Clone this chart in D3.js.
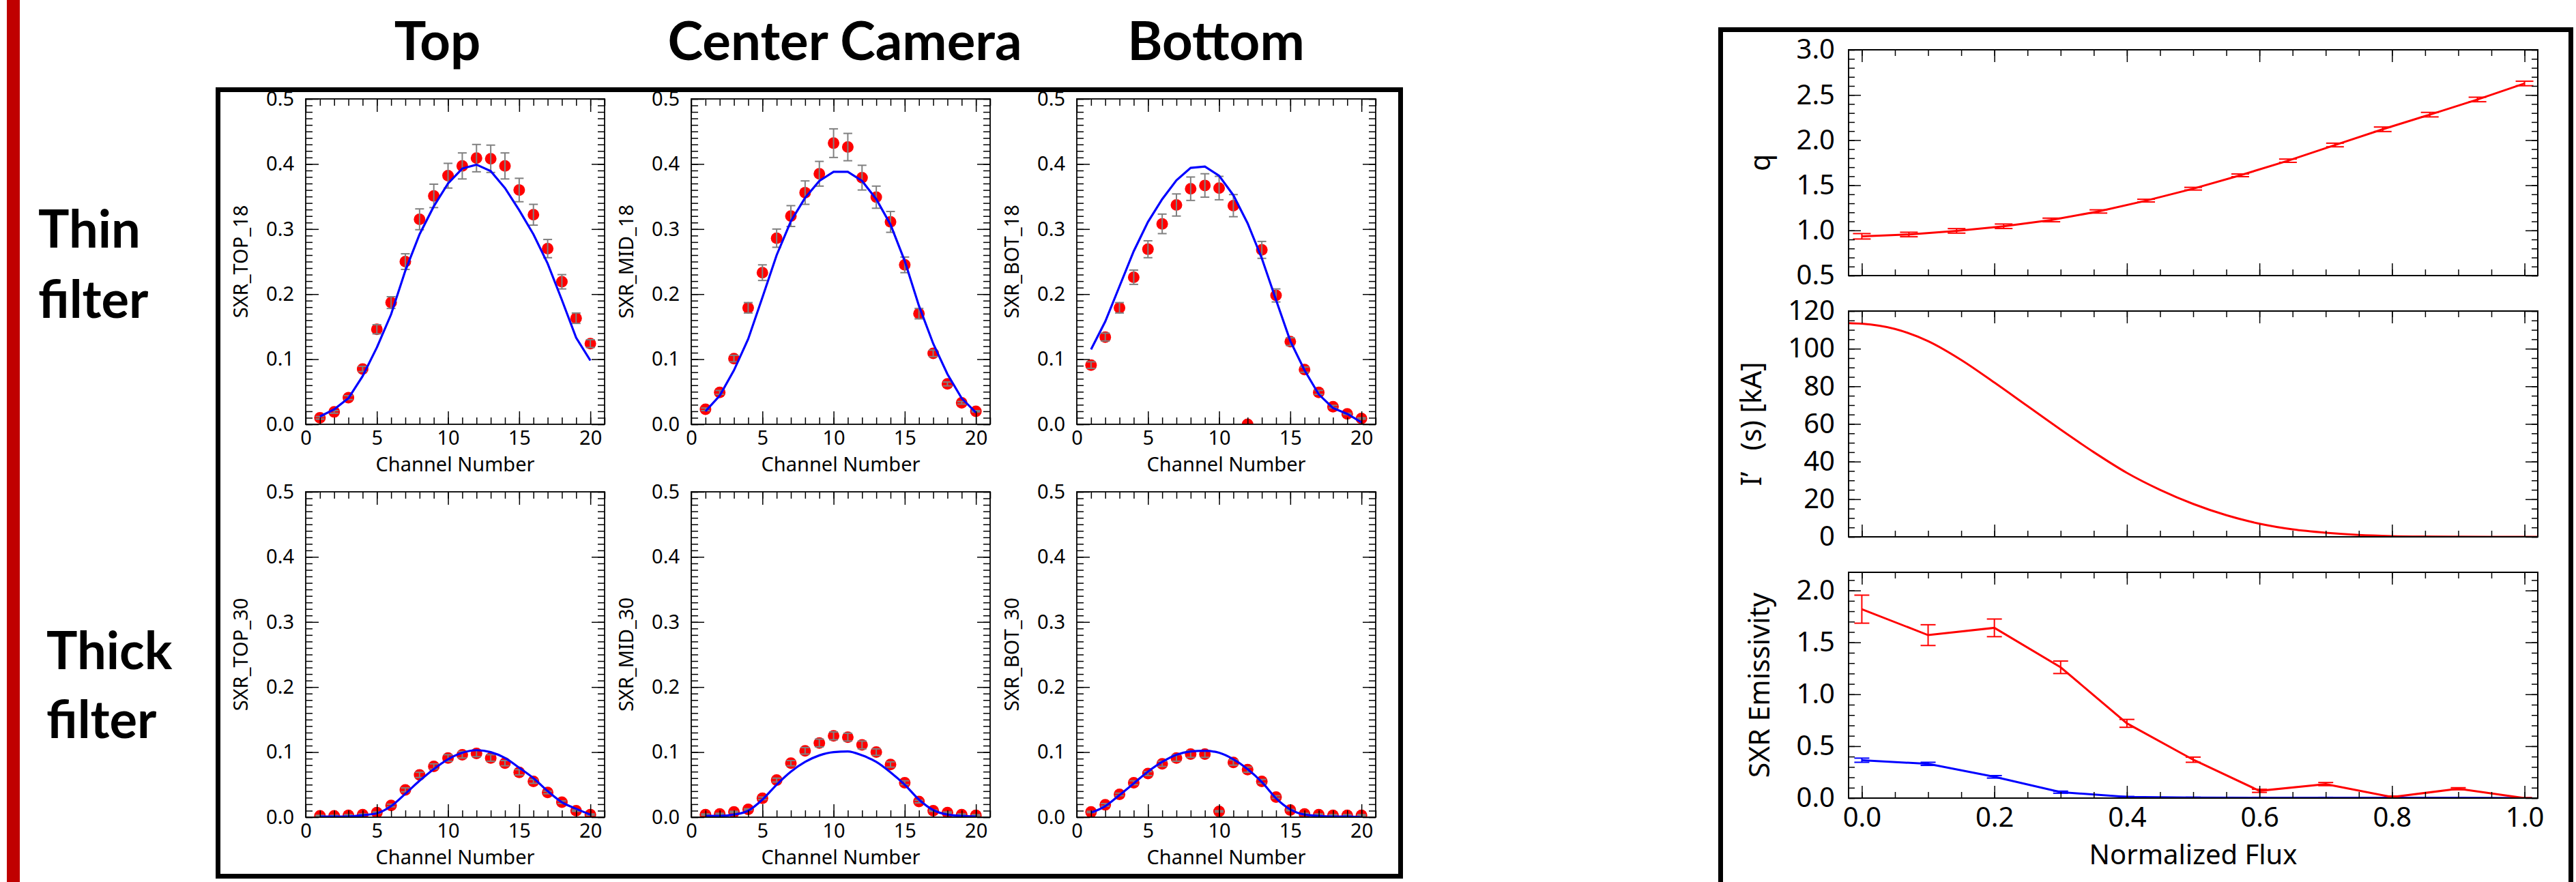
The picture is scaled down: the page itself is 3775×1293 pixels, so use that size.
<!DOCTYPE html>
<html>
<head>
<meta charset="utf-8">
<script src="https://cdn.jsdelivr.net/npm/d3@7"></script>
<style>
  body { margin: 0; background: #fff; }
</style>
</head>
<body>
<div id="chart"></div>
<script>
// ---- data ----
var channels = [1,2,3,4,5,6,7,8,9,10,11,12,13,14,15,16,17,18,19,20];
var chanTicks = [0,5,10,15,20];
var sxrTicks = [0.0,0.1,0.2,0.3,0.4,0.5];

// thin filter (_18)
var top18 = [0.010,0.019,0.041,0.085,0.146,0.187,0.250,0.315,0.351,0.382,0.397,0.409,0.408,0.397,0.360,0.322,0.270,0.219,0.163,0.124];
var top18Err = [0.002,0.002,0.003,0.004,0.007,0.009,0.012,0.016,0.018,0.019,0.020,0.021,0.021,0.020,0.018,0.016,0.014,0.011,0.008,0.006];
var top18Fit = [0.012,0.023,0.040,0.074,0.118,0.169,0.236,0.292,0.335,0.370,0.393,0.399,0.389,0.363,0.329,0.292,0.247,0.191,0.133,0.098];

var mid18 = [0.023,0.049,0.101,0.179,0.233,0.286,0.320,0.356,0.385,0.432,0.426,0.379,0.349,0.311,0.245,0.170,0.109,0.062,0.033,0.020];
var mid18Err = [0.002,0.003,0.005,0.008,0.012,0.014,0.016,0.018,0.019,0.022,0.021,0.019,0.017,0.016,0.012,0.008,0.005,0.003,0.002,0.001];
var mid18Fit = [0.020,0.044,0.083,0.131,0.195,0.260,0.312,0.348,0.374,0.388,0.388,0.374,0.346,0.307,0.251,0.182,0.124,0.077,0.040,0.018];

var bot18 = [0.091,0.134,0.179,0.226,0.269,0.308,0.337,0.362,0.367,0.363,0.336,0.000,0.268,0.198,0.127,0.084,0.049,0.027,0.016,0.009];
var bot18Err = [0.005,0.006,0.008,0.011,0.013,0.015,0.017,0.018,0.018,0.018,0.017,0.000,0.013,0.010,0.006,0.004,0.003,0.002,0.001,0.001];
var bot18Fit = [0.115,0.158,0.212,0.266,0.311,0.346,0.375,0.394,0.396,0.382,0.352,0.309,0.255,0.191,0.128,0.083,0.046,0.025,0.016,0.003];

// thick filter (_30)
var top30 = [0.002,0.002,0.003,0.004,0.007,0.018,0.042,0.065,0.078,0.091,0.096,0.098,0.091,0.083,0.069,0.055,0.038,0.023,0.010,0.004];
var top30Err = [0.001,0.001,0.001,0.001,0.001,0.002,0.003,0.004,0.004,0.005,0.005,0.005,0.005,0.004,0.004,0.003,0.002,0.002,0.001,0.001];
var top30Fit = [0.001,0.001,0.001,0.003,0.006,0.017,0.036,0.056,0.074,0.089,0.099,0.103,0.100,0.091,0.076,0.060,0.040,0.023,0.013,0.004];

var mid30 = [0.004,0.005,0.008,0.012,0.029,0.057,0.083,0.102,0.114,0.125,0.123,0.111,0.100,0.081,0.053,0.024,0.010,0.007,0.004,0.003];
var mid30Err = [0.001,0.001,0.001,0.001,0.002,0.003,0.004,0.005,0.006,0.006,0.006,0.006,0.005,0.004,0.003,0.002,0.001,0.001,0.001,0.001];
var mid30Fit = [0.002,0.002,0.004,0.010,0.027,0.050,0.070,0.085,0.095,0.100,0.101,0.095,0.085,0.069,0.050,0.027,0.011,0.004,0.002,0.001];

var bot30 = [0.008,0.019,0.035,0.053,0.067,0.082,0.091,0.097,0.097,0.009,0.084,0.073,0.055,0.031,0.011,0.005,0.004,0.003,0.003,0.003];
var bot30Err = [0.001,0.002,0.002,0.003,0.003,0.004,0.005,0.005,0.005,0.001,0.004,0.004,0.003,0.002,0.001,0.001,0.001,0.001,0.001,0.001];
var bot30Fit = [0.007,0.017,0.034,0.052,0.070,0.085,0.096,0.101,0.102,0.099,0.089,0.074,0.054,0.029,0.012,0.004,0.002,0.001,0.001,0.000];

// right side: profiles vs normalized flux
var fluxTicks = [0.0,0.2,0.4,0.6,0.8,1.0];
var fluxQ = [0,0.071,0.143,0.214,0.286,0.357,0.429,0.5,0.571,0.643,0.714,0.786,0.857,0.929,1.0];
var qProfile = [0.935,0.955,0.995,1.046,1.116,1.21,1.33,1.462,1.61,1.772,1.946,2.12,2.282,2.45,2.627];
var qErr = [0.03,0.025,0.025,0.025,0.02,0.018,0.015,0.015,0.015,0.018,0.02,0.025,0.025,0.025,0.025];
var qTicks = [0.5,1.0,1.5,2.0,2.5,3.0];

var fluxI = [-0.02,0,0.05,0.1,0.15,0.2,0.25,0.3,0.35,0.4,0.45,0.5,0.55,0.6,0.65,0.7,0.75,0.8,0.85,0.9,0.95,1.0,1.02];
var iPrime = [113.6,113.3,110.5,104,94,82,69.5,57,45,34,25,17.5,11.5,7,4,2.2,1,0.4,0.15,0.05,0,0,0];
var iTicks = [0,20,40,60,80,100,120];

var fluxE = [0,0.1,0.2,0.3,0.4,0.5,0.6,0.7,0.8,0.9,1.0];
var emisThin = [1.82,1.57,1.64,1.26,0.72,0.37,0.07,0.135,0.01,0.09,0.0];
var emisThinErr = [0.135,0.1,0.085,0.06,0.038,0.025,0.015,0.015,0.01,0.01,0.005];
var emisThick = [0.365,0.33,0.205,0.057,0.012,0.005,0.004,0.004,0.003,0.003,0.0];
var emisThickErr = [0.02,0.015,0.012,0.01,0.004,0.003,0.003,0.003,0.003,0.003,0.002];
var emisTicks = [0.0,0.5,1.0,1.5,2.0];

// ---- page ----
var font = "'Noto Sans', 'DejaVu Sans', sans-serif";
var titleFont = "Lato, 'Open Sans', sans-serif";

var svg = d3.select("#chart").append("svg")
    .attr("width", 3775)
    .attr("height", 1293)
    .style("display", "block");

svg.append("rect").attr("x", 10).attr("y", 0).attr("width", 19).attr("height", 1293).attr("fill", "#c00000");

// boxes round the two groups
svg.append("rect").attr("x", 319.5).attr("y", 131.5).attr("width", 1733).attr("height", 1153)
    .attr("fill", "none").attr("stroke", "#000").attr("stroke-width", 7);
svg.append("rect").attr("x", 2521.5).attr("y", 43.5).attr("width", 1246).attr("height", 1300)
    .attr("fill", "none").attr("stroke", "#000").attr("stroke-width", 7);

// titles
var titles = [["Top", 641], ["Center Camera", 1238], ["Bottom", 1782]];
titles.forEach(function (t) {
    svg.append("text").attr("x", t[1]).attr("y", 88).attr("text-anchor", "middle")
        .attr("font-family", titleFont).attr("font-weight", 700).attr("font-size", 78).text(t[0]);
});
var rowNames = [["Thin", 56, 363], ["filter", 56, 466], ["Thick", 68, 981], ["filter", 68, 1082]];
rowNames.forEach(function (t) {
    svg.append("text").attr("x", t[1]).attr("y", t[2])
        .attr("font-family", titleFont).attr("font-weight", 700).attr("font-size", 76).text(t[0]);
});

var clipCount = 0;

// one set of ticks on one side of the box
function tickSide(g, axisFn, scale, values, size, pad, fmt, fs, transform) {
    var a = axisFn(scale).tickValues(values).tickSize(-size).tickSizeOuter(0).tickPadding(pad)
        .tickFormat(fmt ? fmt : function () { return ""; });
    var ag = g.append("g").attr("transform", transform).call(a);
    ag.select(".domain").remove();
    ag.attr("font-family", font).attr("font-size", fs);
    ag.selectAll("line").attr("stroke", "#000").attr("stroke-width", 1.5);
    ag.selectAll("text").attr("fill", "#000");
    if (!fmt) ag.selectAll("text").remove();
    return ag;
}

// box with inward ticks on all four sides
function boxAxes(g, x, y, w, h, o) {
    var xMin = o.xMinor, yMin = o.yMinor;
    tickSide(g, d3.axisBottom, x, xMin, o.min, 0, null, o.fs, `translate(0,${h})`);
    tickSide(g, d3.axisBottom, x, o.xMajor, o.maj, o.xPad, o.showX ? o.xFmt : null, o.fs, `translate(0,${h})`);
    tickSide(g, d3.axisTop, x, xMin, o.min, 0, null, o.fs, null);
    tickSide(g, d3.axisTop, x, o.xMajor, o.maj, 0, null, o.fs, null);
    tickSide(g, d3.axisLeft, y, yMin, o.min, 0, null, o.fs, null);
    tickSide(g, d3.axisLeft, y, o.yMajor, o.maj, o.yPad, o.yFmt, o.fs, null);
    tickSide(g, d3.axisRight, y, yMin, o.min, 0, null, o.fs, `translate(${w},0)`);
    tickSide(g, d3.axisRight, y, o.yMajor, o.maj, 0, null, o.fs, `translate(${w},0)`);
    g.append("rect").attr("width", w).attr("height", h).attr("fill", "none")
        .attr("stroke", "#000").attr("stroke-width", o.spine);
}

function clipFor(g, w, h) {
    var id = "clip" + (clipCount++);
    g.append("clipPath").attr("id", id).append("rect").attr("width", w).attr("height", h);
    return g.append("g").attr("clip-path", `url(#${id})`);
}

function errorBars(g, x, y, xs, vals, errs, color, cap, width) {
    vals.forEach(function (v, i) {
        var e = errs[i];
        if (e <= 0) return;
        var cx = x(xs[i]);
        g.append("line").attr("x1", cx).attr("x2", cx).attr("y1", y(v - e)).attr("y2", y(v + e))
            .attr("stroke", color).attr("stroke-width", width);
        [v - e, v + e].forEach(function (c) {
            g.append("line").attr("x1", cx - cap).attr("x2", cx + cap).attr("y1", y(c)).attr("y2", y(c))
                .attr("stroke", color).attr("stroke-width", width);
        });
    });
}

// SXR camera panels
var panelW = 438, panelH = 477;
function channelPanel(left, top, label, data, err, fit, curve) {
    var g = svg.append("g").attr("transform", `translate(${left},${top})`);
    var x = d3.scaleLinear().domain([0, 21]).range([0, panelW]);
    var y = d3.scaleLinear().domain([0, 0.5]).range([panelH, 0]);

    var inner = clipFor(g, panelW, panelH);
    inner.selectAll("circle").data(data).enter().append("circle")
        .attr("cx", function (d, i) { return x(channels[i]); })
        .attr("cy", function (d) { return y(d); })
        .attr("r", 8.5)
        .attr("fill", "#ff0000");
    errorBars(inner, x, y, channels, data, err, "#808080", 6.5, 2);
    var line = d3.line()
        .x(function (d, i) { return x(channels[i]); })
        .y(function (d) { return y(d); })
        .curve(curve);
    inner.append("path").datum(fit).attr("d", line)
        .attr("fill", "none").attr("stroke", "#0000ff").attr("stroke-width", 3.2);

    boxAxes(g, x, y, panelW, panelH, {
        xMajor: chanTicks, xMinor: channels.concat([21]), yMajor: sxrTicks, yMinor: y.ticks(50),
        maj: 19, min: 10, xPad: 9, yPad: 17, fs: 29, spine: 1.8, showX: true,
        xFmt: d3.format("d"), yFmt: d3.format(".1f")
    });

    g.append("text").attr("x", panelW / 2).attr("y", panelH + 69).attr("text-anchor", "middle")
        .attr("font-family", font).attr("font-size", 29).text("Channel Number");
    g.append("text").attr("transform", `translate(-85,${panelH / 2}) rotate(-90)`)
        .attr("text-anchor", "middle").attr("font-family", font).attr("font-size", 29).text(label);
}

var colLeft = [448, 1013, 1578];
var rowTop = [145, 721];
channelPanel(colLeft[0], rowTop[0], "SXR_TOP_18", top18, top18Err, top18Fit, d3.curveLinear);
channelPanel(colLeft[1], rowTop[0], "SXR_MID_18", mid18, mid18Err, mid18Fit, d3.curveLinear);
channelPanel(colLeft[2], rowTop[0], "SXR_BOT_18", bot18, bot18Err, bot18Fit, d3.curveLinear);
channelPanel(colLeft[0], rowTop[1], "SXR_TOP_30", top30, top30Err, top30Fit, d3.curveMonotoneX);
channelPanel(colLeft[1], rowTop[1], "SXR_MID_30", mid30, mid30Err, mid30Fit, d3.curveMonotoneX);
channelPanel(colLeft[2], rowTop[1], "SXR_BOT_30", bot30, bot30Err, bot30Fit, d3.curveMonotoneX);

// profile panels on the right
var fluxLeft = 2709, fluxW = 1010, fluxH = 331;
var xFlux = d3.scaleLinear().domain([-0.02, 1.02]).range([0, fluxW]);

function fluxPanel(top, domain, yMajor, minorCount, yFmt, label, labelX, showX) {
    var g = svg.append("g").attr("transform", `translate(${fluxLeft},${top})`);
    var y = d3.scaleLinear().domain(domain).range([fluxH, 0]);
    var inner = clipFor(g, fluxW, fluxH);
    boxAxes(g, xFlux, y, fluxW, fluxH, {
        xMajor: fluxTicks, xMinor: xFlux.ticks(20), yMajor: yMajor, yMinor: y.ticks(minorCount),
        maj: 18, min: 9, xPad: 14, yPad: 20, fs: 40, spine: 2, showX: showX,
        xFmt: d3.format(".1f"), yFmt: yFmt
    });
    g.append("text").attr("transform", `translate(${labelX},${fluxH / 2}) rotate(-90)`)
        .attr("text-anchor", "middle").attr("font-family", font).attr("font-size", 41)
        .style("white-space", "pre").text(label);
    return { g: g, inner: inner, y: y };
}

// q
var pq = fluxPanel(73, [0.5, 3.0], qTicks, 25, d3.format(".1f"), "q", -115, false);
var qLine = d3.line().x(function (d, i) { return xFlux(fluxQ[i]); }).y(function (d) { return pq.y(d); });
pq.inner.append("path").datum(qProfile).attr("d", qLine)
    .attr("fill", "none").attr("stroke", "#ff0000").attr("stroke-width", 3);
errorBars(pq.inner, xFlux, pq.y, fluxQ, qProfile, qErr, "#ff0000", 13, 2);

// current
var pi = fluxPanel(456, [0, 120], iTicks, 24, d3.format("d"), "I\u2019\u2002 (s) [kA]", -128, false);
var iLine = d3.line().x(function (d, i) { return xFlux(fluxI[i]); }).y(function (d) { return pi.y(d); })
    .curve(d3.curveMonotoneX);
pi.inner.append("path").datum(iPrime).attr("d", iLine)
    .attr("fill", "none").attr("stroke", "#ff0000").attr("stroke-width", 3);

// emissivity
var pe = fluxPanel(839, [0, 2.175], emisTicks, 21, d3.format(".1f"), "SXR Emissivity", -116, true);
var eLine = d3.line().x(function (d, i) { return xFlux(fluxE[i]); }).y(function (d) { return pe.y(d); });
pe.inner.append("path").datum(emisThick).attr("d", eLine)
    .attr("fill", "none").attr("stroke", "#0000ff").attr("stroke-width", 3);
errorBars(pe.inner, xFlux, pe.y, fluxE, emisThick, emisThickErr, "#0000ff", 11, 2);
pe.inner.append("path").datum(emisThin).attr("d", eLine)
    .attr("fill", "none").attr("stroke", "#ff0000").attr("stroke-width", 3);
errorBars(pe.inner, xFlux, pe.y, fluxE, emisThin, emisThinErr, "#ff0000", 11, 2);
pe.g.append("text").attr("x", fluxW / 2).attr("y", fluxH + 97).attr("text-anchor", "middle")
    .attr("font-family", font).attr("font-size", 40).text("Normalized Flux");
</script>
</body>
</html>
